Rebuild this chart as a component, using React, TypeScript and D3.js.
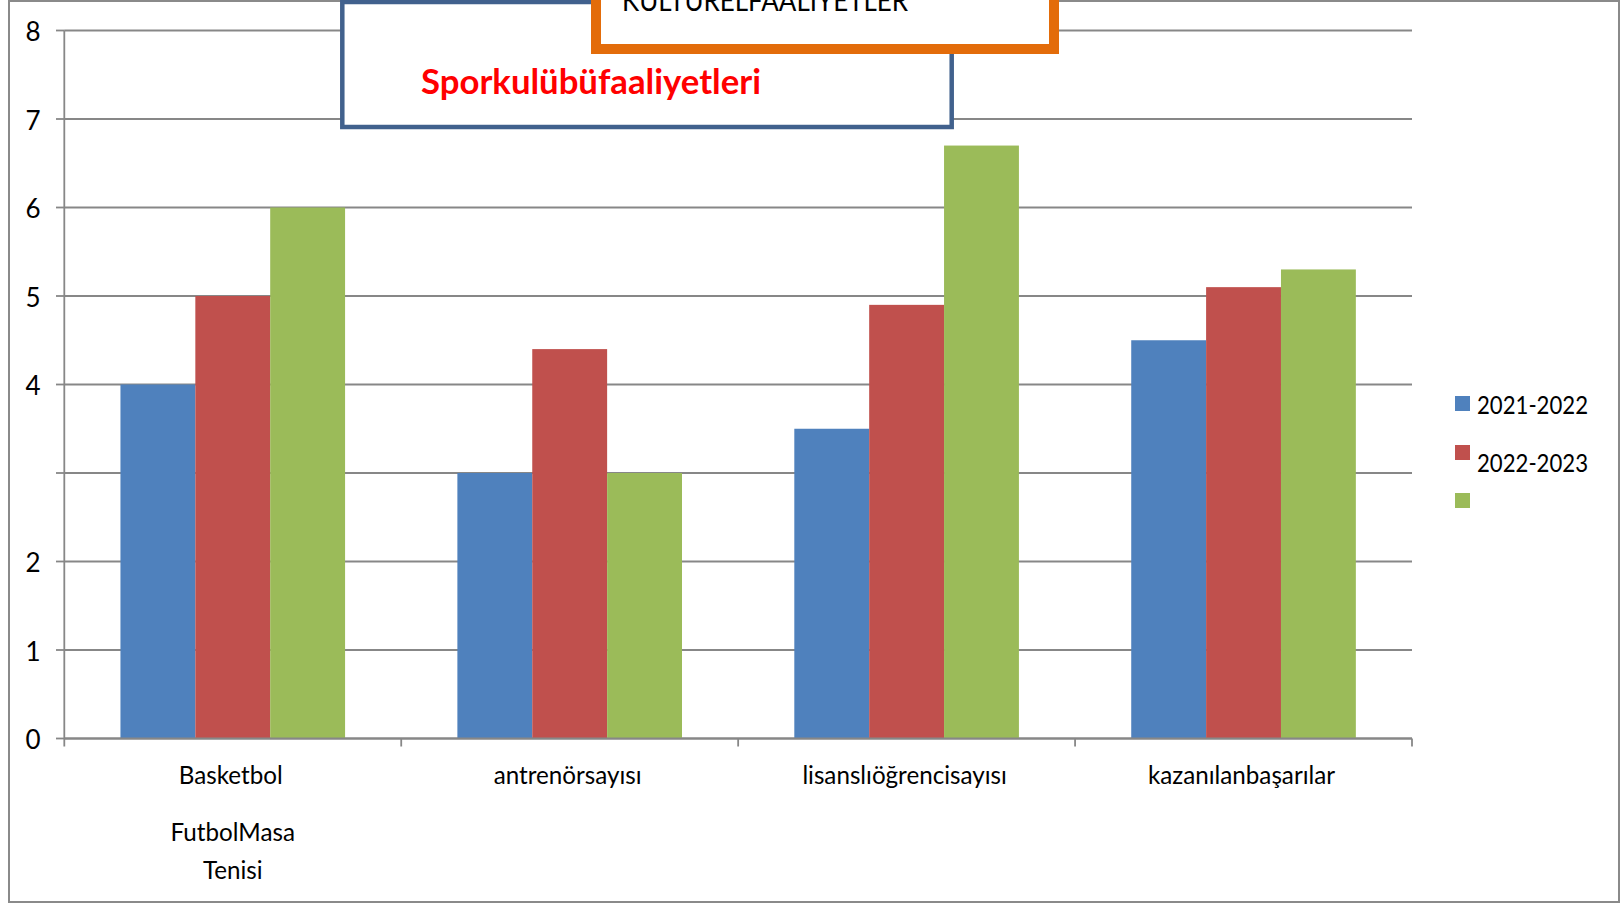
import React from "react";
import * as d3 from "d3";

// ---- data ----
const categories = ["Basketbol", "antrenörsayısı", "lisanslıöğrencisayısı", "kazanılanbaşarılar"];
const categoryExtraLines = [["FutbolMasa", "Tenisi"], [], [], []];
const seriesNames = ["2021-2022", "2022-2023", ""];
const series2021 = [4, 3, 3.5, 4.5];
const series2022 = [5, 4.4, 4.9, 5.1];
const series3 = [6, 3, 6.7, 5.3];
const yTicks = [0, 1, 2, 3, 4, 5, 6, 7, 8];
const yTickLabels = ["0", "1", "2", "", "4", "5", "6", "7", "8"];
const titleText = "Sporkulübüfaaliyetleri";
const topBoxText = "KÜLTÜRELFAALİYETLER";

const seriesValues = [series2021, series2022, series3];
const colors = ["#4F81BD", "#C0504D", "#9BBB59"];

const W = 1621;
const H = 905;
const FONT = "Lato, 'Open Sans', sans-serif";

export default function App() {
  const x = d3.scaleBand<string>().domain(categories).range([64.3, 1412]).padding(0);
  const y = d3.scaleLinear().domain([0, 8]).range([738.5, 30.5]);
  const bw = x.bandwidth();
  const barW = bw / 4.5;
  const gap = barW * 0.75;
  const grid = "#878787";

  return (
    <svg
      width={W}
      height={H}
      style={{ position: "absolute", left: 0, top: 0, display: "block", background: "#fff" }}
      fontFamily={FONT}
    >
      {/* outer frame */}
      <rect x={9} y={1} width={1610} height={901} fill="#fff" stroke="#8a8a8a" strokeWidth={2} />

      {/* gridlines */}
      {yTicks.map((t) => (
        <line key={"g" + t} x1={64.3} x2={1412} y1={y(t)} y2={y(t)} stroke={grid} strokeWidth={1.8} />
      ))}

      {/* bars */}
      {seriesValues.map((vals, si) =>
        vals.map((v, ci) => (
          <rect
            key={`b${si}-${ci}`}
            x={(x(categories[ci]) as number) + gap + si * barW}
            y={y(v)}
            width={barW}
            height={y(0) - y(v)}
            fill={colors[si]}
          />
        ))
      )}

      {/* y axis */}
      <line x1={64.3} x2={64.3} y1={y(8)} y2={y(0)} stroke={grid} strokeWidth={1.8} />
      {yTicks.map((t) => (
        <line key={"yt" + t} x1={56} x2={64.3} y1={y(t)} y2={y(t)} stroke={grid} strokeWidth={1.8} />
      ))}
      {yTicks.map((t, i) => (
        <text key={"yl" + t} x={40.5} y={y(t) + 10.5} textAnchor="end" fontSize={26} fill="#000">
          {yTickLabels[i]}
        </text>
      ))}

      {/* x axis */}
      <line x1={64.3} x2={1412} y1={y(0)} y2={y(0)} stroke={grid} strokeWidth={1.8} />
      {[...categories.map((c) => x(c) as number), 1412].map((px, i) => (
        <line key={"xt" + i} x1={px} x2={px} y1={y(0)} y2={y(0) + 8} stroke={grid} strokeWidth={1.8} />
      ))}
      {categories.map((c, i) => {
        const cx = (x(c) as number) + bw / 2;
        return (
          <g key={"xl" + i}>
            <text x={cx - 2} y={784} textAnchor="middle" fontSize={24.2} fill="#000">
              {c}
            </text>
            {categoryExtraLines[i].map((ln, j) => (
              <text key={j} x={cx} y={841 + j * 38} textAnchor="middle" fontSize={24.2} fill="#000">
                {ln}
              </text>
            ))}
          </g>
        );
      })}

      {/* legend */}
      {seriesNames.map((n, i) => (
        <rect key={"ls" + i} x={1455} y={[396, 445, 493][i]} width={15} height={15} fill={colors[i]} />
      ))}
      {seriesNames.map((n, i) =>
        n ? (
          <text key={"lt" + i} x={1477} y={[414.3, 471.7][i]} fontSize={24.5} fill="#000" textLength={111} lengthAdjust="spacingAndGlyphs">
            {n}
          </text>
        ) : null
      )}

      {/* blue title box */}
      <rect x={342.3} y={2} width={609.4} height={125} fill="#fff" stroke="#41618D" strokeWidth={4.5} />
      <text x={421} y={94} fontSize={34} fontWeight="bold" fill="#FF0000" textLength={340} lengthAdjust="spacingAndGlyphs">
        {titleText}
      </text>

      {/* orange box */}
      <rect x={596} y={-60} width={458} height={109} fill="#fff" stroke="#E36C0A" strokeWidth={10} />
      <text x={622} y={11} fontSize={28} fill="#000" textLength={286} lengthAdjust="spacingAndGlyphs">
        {topBoxText}
      </text>
    </svg>
  );
}
